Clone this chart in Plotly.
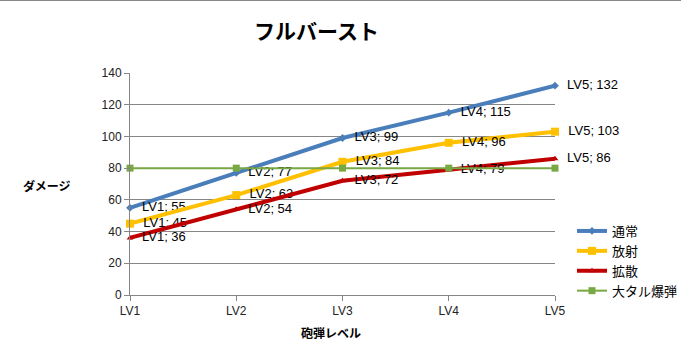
import plotly.graph_objects as go

levels = ["LV1", "LV2", "LV3", "LV4", "LV5"]
normal = [55, 77, 99, 115, 132]
radial = [45, 63, 84, 96, 103]
spread = [36, 54, 72, 79, 86]
big_barrel = [80, 80, 80, 80, 80]

series = [
    ("通常", normal, "#4a7ebb", 4, "diamond", 6, True),
    ("放射", radial, "#ffc000", 4, "square", 8, True),
    ("拡散", spread, "#c00000", 4, "triangle-up", 6, True),
    ("大タル爆弾", big_barrel, "#77a844", 2, "square", 7, False),
]

JP = "Noto Sans CJK JP, sans-serif"
LAT = "Liberation Sans, Arial, sans-serif"

W, H = 681, 354
L, R, T, B = 130, 126, 73, 59
pw, ph = W - L - R, H - T - B


def px(x):
    return (x - L) / pw


def py(y):
    return (H - B - y) / ph


fig = go.Figure()
xs = list(range(len(levels)))
for name, vals, color, w, sym, ms, labels in series:
    fig.add_trace(go.Scatter(
        x=xs, y=vals, name=name,
        mode="lines+markers+text" if labels else "lines+markers",
        line=dict(color=color, width=w),
        marker=dict(symbol=sym, size=ms, color=color),
        text=[f"\u00a0\u00a0{l}; {v}" for l, v in zip(levels, vals)] if labels else None,
        textposition="middle right",
        textfont=dict(size=13, color="#000000", family=LAT),
        cliponaxis=False,
    ))

fig.update_layout(
    width=W, height=H,
    margin=dict(l=L, r=R, t=T, b=B, autoexpand=False),
    paper_bgcolor="white", plot_bgcolor="white",
    font=dict(family=LAT, size=11, color="#000"),
    showlegend=True,
    legend=dict(x=px(572), y=py(216), xanchor="left", yanchor="top",
                font=dict(size=13, family=JP), itemwidth=30,
                tracegroupgap=0, bgcolor="rgba(0,0,0,0)"),
    xaxis=dict(range=[0, 4], tickmode="array", tickvals=xs, ticktext=levels,
               showgrid=False, showline=True, linecolor="#868686", linewidth=1,
               ticks="outside", ticklen=5, tickcolor="#868686", zeroline=False,
               tickfont=dict(size=12, color="#222", family=LAT)),
    yaxis=dict(range=[0, 140], tick0=0, dtick=20, showgrid=True, gridcolor="#868686",
               gridwidth=1, showline=True, linecolor="#868686", linewidth=1,
               ticks="outside", ticklen=5, tickcolor="#868686", zeroline=False,
               tickfont=dict(size=12, color="#222", family=LAT)),
    annotations=[
        dict(text="<b>フルバースト</b>", x=px(316), y=py(30), xref="paper", yref="paper",
             xanchor="center", yanchor="middle",
             showarrow=False, font=dict(size=21, family=JP)),
        dict(text="<b>ダメージ</b>", x=px(46), y=py(185), xref="paper", yref="paper",
             xanchor="center", yanchor="middle",
             showarrow=False, font=dict(size=12, family=JP)),
        dict(text="<b>砲弾レベル</b>", x=px(331), y=py(332), xref="paper", yref="paper",
             xanchor="center", yanchor="middle",
             showarrow=False, font=dict(size=12, family=JP)),
    ],
    shapes=[dict(type="line", xref="paper", yref="paper", x0=px(0), x1=px(W),
                 y0=py(0.5), y1=py(0.5), line=dict(color="#888", width=1))],
)

fig.write_html("out.html")
